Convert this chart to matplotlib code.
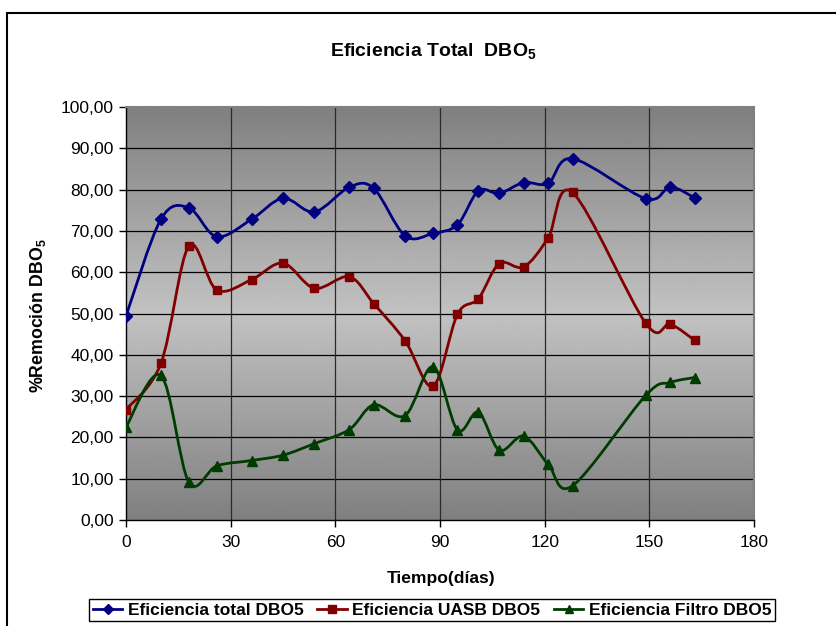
import numpy as np
import matplotlib
matplotlib.use('Agg')
import matplotlib.pyplot as plt
from matplotlib.path import Path
from matplotlib.patches import PathPatch, Rectangle
from matplotlib.lines import Line2D

# ---- data ----
days = [0, 10, 18, 26, 36, 45, 54, 64, 71, 80, 88, 95, 101, 107, 114, 121, 128, 149, 156, 163]
ef_total = [49.4, 72.8, 75.6, 68.6, 72.8, 77.9, 74.6, 80.6, 80.3, 68.8, 69.4, 71.5,
            79.7, 79.1, 81.7, 81.5, 87.5, 77.8, 80.6, 78.0]
ef_uasb = [26.7, 37.9, 66.3, 55.7, 58.2, 62.2, 56.1, 58.9, 52.4, 43.4, 32.4, 49.8,
           53.6, 62.1, 61.3, 68.3, 79.3, 47.6, 47.4, 43.5]
ef_filtro = [22.5, 35.0, 9.2, 13.1, 14.4, 15.7, 18.5, 21.9, 27.9, 25.3, 37.1, 21.8,
             26.1, 16.9, 20.3, 13.5, 8.3, 30.2, 33.3, 34.5]
series_names = ['Eficiencia total DBO5', 'Eficiencia UASB DBO5', 'Eficiencia Filtro DBO5']
x_ticks = [0, 30, 60, 90, 120, 150, 180]
y_ticks = [0, 10, 20, 30, 40, 50, 60, 70, 80, 90, 100]

plt.rcParams['font.family'] = ['Liberation Sans', 'DejaVu Sans']
plt.rcParams['mathtext.fontset'] = 'custom'
plt.rcParams['mathtext.rm'] = 'Liberation Sans'
plt.rcParams['mathtext.bf'] = 'Liberation Sans:bold'

fig = plt.figure(figsize=(8.36, 6.26), dpi=100)
ax = fig.add_axes([126/836, 1-520/626, (754-126)/836, (520-107)/626])
ax.set_xlim(0, 180)
ax.set_ylim(0, 100)

# gradient background: dark top, light middle, dark bottom
yy = np.linspace(0, 100, 400)
g = 0.5 + 0.26 * (1 - np.abs(yy - 50) / 50)
ax.imshow(g[:, None], extent=[0, 180, 0, 100], origin='lower', aspect='auto',
          cmap='gray', vmin=0, vmax=1, zorder=0, interpolation='bilinear')

for v in y_ticks[1:-1]:
    ax.axhline(v, color='black', lw=0.9, zorder=1)
for v in x_ticks[1:-1]:
    ax.axvline(v, color='#2a2a2a', lw=0.9, zorder=1)


def smooth_path(x, y):
    pts = np.column_stack([x, y]).astype(float)
    n = len(pts)
    verts = [pts[0]]
    codes = [Path.MOVETO]
    for i in range(n - 1):
        p0 = pts[i - 1] if i > 0 else pts[i]
        p3 = pts[i + 2] if i + 2 < n else pts[i + 1]
        c1 = pts[i] + (pts[i + 1] - p0) / 6.0
        c2 = pts[i + 1] - (p3 - pts[i]) / 6.0
        verts += [c1, c2, pts[i + 1]]
        codes += [Path.CURVE4] * 3
    return Path(verts, codes)


styles = [
    (ef_total, '#000080', 'D', 6.0),
    (ef_uasb, '#800000', 's', 6.0),
    (ef_filtro, '#003c00', '^', 6.5),
]
handles = []
for (vals, col, mk, ms), name in zip(styles, series_names):
    ax.add_patch(PathPatch(smooth_path(days, vals), fill=False, ec=col, lw=2.0, zorder=3))
    ax.plot(days, vals, ls='none', marker=mk, ms=ms, color=col, zorder=4)
    handles.append(Line2D([], [], color=col, lw=2.0, marker=mk, ms=ms - 0.5, label=name))

ax.set_xticks(x_ticks)
ax.set_yticks(y_ticks)
ax.set_yticklabels([f"{v:.2f}".replace('.', ',') for v in y_ticks])
ax.tick_params(direction='out', length=5, width=1, labelsize=12.5, colors='black')
ax.tick_params(axis='x', pad=6)
ax.tick_params(axis='y', pad=4)
for s in ['left', 'bottom']:
    ax.spines[s].set_color('black')
    ax.spines[s].set_linewidth(1)
for s in ['top', 'right']:
    ax.spines[s].set_color('#808080')
    ax.spines[s].set_linewidth(1.5)

fig.text(433/836, 1-52/626, r'Eficiencia Total  DBO$_\mathbf{5}$', ha='center', va='center',
         fontsize=14, fontweight='bold')
fig.text(38/836, 1-316/626, r'%Remoción DBO$_\mathbf{5}$', ha='center', va='center',
         rotation=90, fontsize=12.8, fontweight='bold')
fig.text(441/836, 1-578/626, 'Tiempo(días)', ha='center', va='center',
         fontsize=12.6, fontweight='bold')

leg = fig.legend(handles=handles, loc='center', bbox_to_anchor=(432/836, 1-610/626),
                 ncol=3, frameon=True, fancybox=False, framealpha=1, edgecolor='black',
                 prop={'weight': 'bold', 'size': 12.5}, handlelength=1.7, handletextpad=0.3,
                 columnspacing=0.8, borderpad=0.2, borderaxespad=0)
leg.get_frame().set_linewidth(1)

fig.add_artist(Rectangle((7/836, -0.1), 1.2, 1 - 13/626 + 0.1, transform=fig.transFigure,
                         fill=False, ec='black', lw=1.5, clip_on=False))

fig.savefig('out.png', dpi=100)
